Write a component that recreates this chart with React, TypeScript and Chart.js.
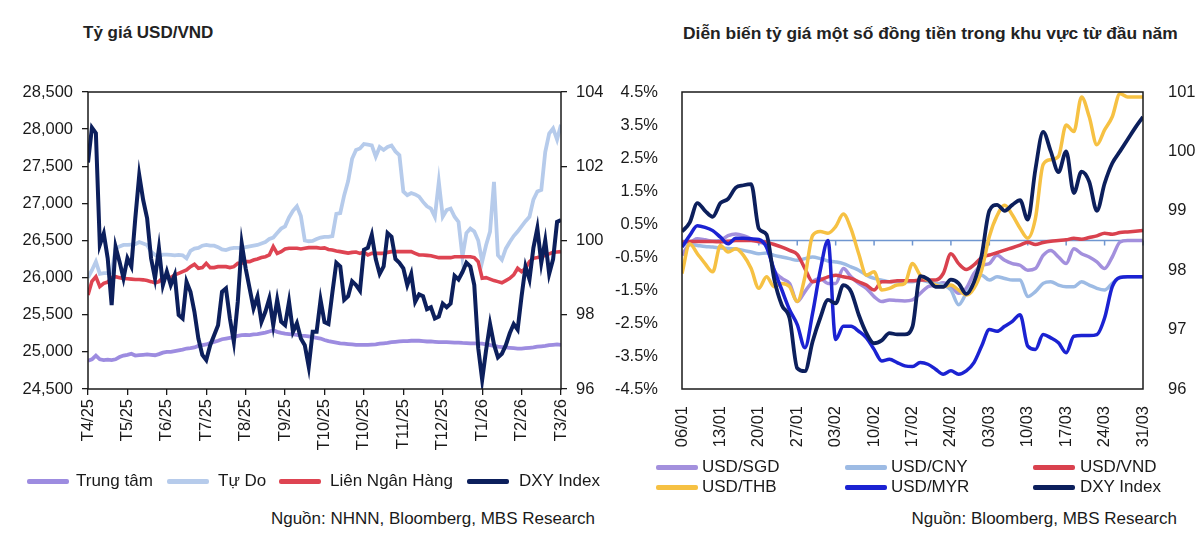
import React, { useEffect, useRef } from "react";
import { Chart, registerables } from "chart.js";

Chart.register(...registerables);

const FONT = "'Liberation Sans', Arial, Helvetica, sans-serif";
const TEXT = "#1a1a1a";

// ---------------- Left chart: Tỷ giá USD/VND ----------------
const leftMonthLabels = ["T4/25", "T5/25", "T6/25", "T7/25", "T8/25", "T9/25", "T10/25", "T10/25", "T11/25", "T12/25", "T1/26", "T2/26", "T3/26"];
const leftVndTicks = [24500, 25000, 25500, 26000, 26500, 27000, 27500, 28000, 28500];
const leftDxyTicks = [96, 98, 100, 102, 104];

const trungTam = [
  24880, 24900, 24950, 24900, 24890, 24895, 24890, 24900, 24930, 24950,
  24960, 24975, 24950, 24955, 24960, 24965, 24960, 24955, 24970, 24990,
  25000, 25000, 25010, 25020, 25030, 25045, 25050, 25060, 25080, 25090,
  25100, 25120, 25135, 25150, 25170, 25180, 25190, 25200, 25215, 25225,
  25230, 25225, 25235, 25240, 25250, 25260, 25275, 25290, 25270, 25255,
  25245, 25240, 25235, 25230, 25220, 25215, 25210, 25200, 25190, 25180,
  25160, 25145, 25135, 25125, 25115, 25110, 25105, 25100, 25095, 25093,
  25093, 25095, 25098, 25100, 25110, 25115, 25120, 25130, 25135, 25140,
  25145, 25145, 25150, 25150, 25150, 25145, 25140, 25140, 25135, 25130,
  25130, 25130, 25128, 25125, 25125, 25120, 25118, 25115, 25115, 25112,
  25110, 25100, 25090, 25080, 25070, 25065, 25060, 25055, 25050, 25045,
  25045, 25050, 25055, 25060, 25070, 25075, 25080, 25090, 25095, 25100, 25095,
];

const tuDo = [
  26000, 26100, 26215, 26050, 26060, 26060, 26070, 26390, 26420, 26440,
  26440, 26445, 26450, 26480, 26460, 26440, 26350, 26305, 26282, 26310,
  26310, 26305, 26300, 26305, 26300, 26260, 26360, 26390, 26400, 26430,
  26440, 26430, 26430, 26410, 26380, 26370, 26390, 26400, 26400, 26400,
  26410, 26420, 26430, 26440, 26460, 26480, 26520, 26540, 26600, 26660,
  26690, 26810, 26900, 26960, 26830, 26500, 26490, 26495, 26520, 26540,
  26550, 26550, 26560, 26860, 26870, 27110, 27300, 27600, 27720, 27740,
  27800, 27790, 27780, 27630, 27760, 27720, 27760, 27780, 27700, 27650,
  27160, 27110, 27140, 27120, 27090, 27020, 26960, 26930, 26820, 27290,
  26820, 26910, 26930, 26820, 26750, 26280, 26600, 26660, 26620, 26500,
  26215, 26440, 26620, 27290, 26300, 26240, 26390, 26480, 26560, 26620,
  26690, 26760, 26820, 27050, 27160, 27180, 27690, 27940, 28010, 27860, 28060,
];

const lienNganHang = [
  25766, 25950, 26013, 25879, 25923, 25940, 26000, 26013, 26000, 25990,
  25985, 25980, 25975, 25975, 25970, 25960, 25946, 25930, 25946, 26000,
  26013, 26000, 26036, 26058, 26080, 26103, 26148, 26179, 26125, 26135,
  26193, 26135, 26135, 26148, 26148, 26148, 26135, 26148, 26193, 26193,
  26215, 26215, 26237, 26251, 26270, 26282, 26305, 26417, 26327, 26350,
  26386, 26395, 26395, 26395, 26386, 26395, 26404, 26404, 26404, 26395,
  26400, 26380, 26372, 26360, 26350, 26340, 26330, 26340, 26345, 26327,
  26345, 26305, 26327, 26327, 26327, 26327, 26340, 26350, 26350, 26350,
  26350, 26350, 26350, 26327, 26305, 26305, 26300, 26295, 26282, 26269,
  26269, 26269, 26269, 26282, 26282, 26282, 26282, 26282, 26270, 26215,
  25991, 26000, 25980, 25960, 25946, 25930, 25960, 25990, 26036, 26125,
  26080, 26125, 26215, 26260, 26270, 26282, 26300, 26320, 26341, 26345, 26350,
];

const dxyLeft = [
  102.1, 103.04, 102.89, 99.88, 100.19, 99.52, 98.26, 99.83, 99.43, 98.98,
  99.52, 99.3, 100.6, 101.76, 101.09, 100.6, 99.52, 98.98, 99.79, 98.8,
  99.16, 98.8, 99.07, 97.99, 97.9, 98.89, 98.62, 98.08, 97.36, 96.92,
  96.78, 97.18, 97.45, 97.72, 98.62, 98.71, 97.9, 97.27, 98.35, 99.92,
  99.25, 98.71, 98.17, 98.49, 97.81, 98.08, 98.44, 97.72, 98.4, 97.81,
  97.72, 98.35, 97.54, 97.77, 97.36, 97.18, 96.6, 97.54, 97.54, 98.4,
  97.8, 97.75, 98.6, 99.4, 99.3, 98.4, 98.5, 98.9, 98.8, 98.65,
  99.75, 99.8, 100.15, 99.5, 99.1, 99.3, 100.2, 100.1, 99.5, 99.4,
  99.25, 98.8, 99.1, 98.35, 98.55, 98.5, 98.15, 98.2, 97.9, 97.95,
  98.3, 98.2, 98.3, 99.05, 98.95, 99.15, 99.4, 99.3, 98.8, 97.1,
  96.25, 97.05, 97.75, 97.2, 96.85, 96.95, 97.18, 97.5, 97.75, 97.6,
  98.5, 99.3, 98.95, 99.8, 100.33, 99.4, 100.0, 99.1, 99.5, 100.5, 100.55,
];

// ---------------- Right chart: khu vực ----------------
const rightWeekLabels = ["06/01", "13/01", "20/01", "27/01", "03/02", "10/02", "17/02", "24/02", "03/03", "10/03", "17/03", "24/03", "31/03"];
const rightPctTicks = [-4.5, -3.5, -2.5, -1.5, -0.5, 0.5, 1.5, 2.5, 3.5, 4.5];
const rightDxyTicks = [96, 97, 98, 99, 100, 101];

const usdSgd = [
  -0.45, -0.1, 0.05, 0.02, -0.02, 0.0, 0.15, 0.2, 0.15, 0.05, -0.05,
  -0.15, -0.9, -1.15, -1.3, -1.85, -1.55, -1.25, -1.15, -1.3, -1.3,
  -0.85, -1.1, -1.3, -1.45, -1.7, -1.85, -1.8, -1.82, -1.83, -1.8,
  -1.6, -1.4, -1.35, -1.28, -1.4, -1.6, -1.45, -1.0, -0.75, -0.7,
  -0.45, -0.6, -0.7, -0.75, -0.9, -0.85, -0.45, -0.3, -0.5, -0.7,
  -0.25, -0.4, -0.5, -0.65, -0.85, -0.5, -0.05, 0.0, 0.0, 0.0,
];

const usdCny = [
  -0.1, -0.12, -0.15, -0.18, -0.2, -0.23, -0.24, -0.26, -0.3, -0.35, -0.4,
  -0.38, -0.45, -0.5, -0.55, -0.6, -0.55, -0.5, -0.55, -0.62, -0.65,
  -0.7, -0.8, -0.9, -1.05, -1.15, -1.2, -1.25, -1.25, -1.25, -1.25,
  -1.2, -1.25, -1.3, -1.35, -1.5, -1.95, -1.6, -1.3, -1.05, -1.2,
  -1.1, -1.15, -1.2, -1.2, -1.7, -1.55, -1.3, -1.25, -1.35, -1.4,
  -1.4, -1.25, -1.35, -1.45, -1.5, -1.3, -1.12, -1.1, -1.1, -1.1,
];

const usdVnd = [
  -0.05, -0.03, -0.03, -0.03, -0.03, -0.04, -0.02, 0.0, 0.0, 0.0, -0.03,
  -0.05, -0.12, -0.2, -0.3, -0.42, -0.85, -1.25, -1.2, -1.1, -1.05,
  -1.1, -1.15, -1.25, -1.35, -1.5, -1.25, -1.25, -1.22, -1.22, -1.22,
  -1.2, -1.2, -1.2, -1.0, -0.4, -0.7, -0.88, -0.74, -0.52, -0.44,
  -0.37, -0.29, -0.22, -0.14, -0.05, -0.12, -0.06, -0.02, 0.0, 0.02,
  0.07, 0.04, 0.09, 0.14, 0.22, 0.19, 0.24, 0.26, 0.28, 0.3,
];

const usdThb = [
  -1.0, -0.1, -0.4, -0.7, -0.95, -0.15, -0.35, -0.25, -0.45, -0.85, -1.45,
  -1.1, -1.4, -1.3, -1.4, -1.85, -1.1, 0.15, 0.27, 0.22, 0.42,
  0.8, 0.35, -0.4, -1.05, -0.95, -1.5, -1.45, -1.35, -1.3, -0.7,
  -1.05, -1.2, -1.35, -1.4, -1.35, -1.5, -1.65, -1.45, -0.9, 0.12,
  0.75, 1.07, 0.77, 0.37, 0.07, 0.67, 2.3, 2.45, 2.55, 3.5,
  3.3, 4.35, 3.75, 2.9, 3.35, 3.75, 4.45, 4.35, 4.35, 4.35,
];

const usdMyr = [
  -0.2, 0.15, 0.45, 0.4, 0.3, 0.1, -0.1, 0.07, 0.07, 0.05, 0.03,
  -0.2, -0.9, -1.5, -2.1, -2.55, -3.25, -2.2, -0.9, 0.0, -3.0,
  -2.6, -2.6, -2.75, -2.95, -3.3, -3.65, -3.6, -3.7, -3.8, -3.82,
  -3.7, -3.75, -3.9, -4.05, -3.95, -4.05, -3.95, -3.7, -3.2, -2.7,
  -2.75, -2.6, -2.45, -2.25, -3.2, -3.3, -2.85, -2.95, -3.1, -3.4,
  -2.9, -2.88, -2.88, -2.85, -2.35, -1.4, -1.12, -1.1, -1.1, -1.1,
];

const dxyRight = [
  98.65, 98.8, 99.13, 99.0, 98.9, 99.13, 99.2, 99.39, 99.43, 99.45, 98.7,
  98.6, 97.85, 97.41, 97.19, 96.35, 96.3, 96.8, 97.2, 97.5, 97.44,
  97.75, 97.64, 97.25, 96.94, 96.77, 96.82, 96.94, 96.92, 96.92, 97.05,
  97.9, 97.85, 97.72, 97.72, 97.84, 97.78, 97.6, 97.8, 98.25, 99.0,
  99.1, 99.0, 99.1, 99.18, 98.85, 99.7, 100.33, 100.0, 99.65, 100.0,
  99.3, 99.66, 99.49, 99.0, 99.46, 99.8, 100.0, 100.2, 100.4, 100.58,
];

// ---------------- colours ----------------
const C_TRUNGTAM = "#9d8ce0";
const C_TUDO = "#b6cbeb";
const C_LNH = "#de4452";
const C_DXY = "#0c1f5c";
const C_SGD = "#a390dd";
const C_CNY = "#9dbbe4";
const C_VND = "#d9414e";
const C_THB = "#f6c143";
const C_MYR = "#1b22d2";
const C_ZERO = "#6f96d0";

const toPoints = (arr: number[]) => arr.map((y, x) => ({ x, y }));

const boxPlugin = {
  id: "plotBox",
  afterDatasetsDraw(chart: any) {
    const { ctx, chartArea: a } = chart;
    ctx.save();
    ctx.strokeStyle = "#1a1a1a";
    ctx.lineWidth = 1.5;
    ctx.strokeRect(a.left, a.top, a.right - a.left, a.bottom - a.top);
    ctx.restore();
  },
};

const zeroLinePlugin = {
  id: "zeroLine",
  beforeDatasetsDraw(chart: any) {
    const { ctx, chartArea: a, scales } = chart;
    const y = scales.y.getPixelForValue(0);
    ctx.save();
    ctx.strokeStyle = C_ZERO;
    ctx.lineWidth = 1.5;
    ctx.beginPath();
    ctx.moveTo(a.left, y);
    ctx.lineTo(a.right, y);
    for (let k = 1; k < rightWeekLabels.length; k++) {
      const x = scales.x.getPixelForValue(k * 5);
      ctx.moveTo(x, y);
      ctx.lineTo(x, y + 5);
    }
    ctx.stroke();
    ctx.restore();
  },
};

const tickFont = { family: FONT, size: 16.5 };

function makeLeftConfig(): any {
  const grid = { display: true, drawOnChartArea: false, drawTicks: true, tickLength: 6, color: "#1a1a1a", lineWidth: 1.3 };
  const line = (label: string, data: number[], color: string, width: number, order: number, axis = "y") => ({
    label,
    data: toPoints(data),
    borderColor: color,
    backgroundColor: color,
    borderWidth: width,
    pointRadius: 0,
    tension: 0,
    yAxisID: axis,
    order,
  });
  return {
    type: "line",
    data: {
      datasets: [
        line("DXY Index", dxyLeft, C_DXY, 4, 0, "y2"),
        line("Liên Ngân Hàng", lienNganHang, C_LNH, 3.6, 1),
        line("Tự Do", tuDo, C_TUDO, 3.8, 2),
        line("Trung tâm", trungTam, C_TRUNGTAM, 3.8, 3),
      ],
    },
    options: {
      animation: false,
      responsive: false,
      devicePixelRatio: 1,
      layout: { padding: { top: 92, left: 0, right: 0, bottom: 0 } },
      plugins: { legend: { display: false }, tooltip: { enabled: false } },
      scales: {
        x: {
          type: "linear",
          min: 0,
          max: (leftMonthLabels.length - 1) * 10,
          afterBuildTicks: (s: any) => {
            s.ticks = leftMonthLabels.map((_, k) => ({ value: k * 10 }));
          },
          afterFit: (s: any) => {
            s.height = 81;
          },
          ticks: {
            autoSkip: false,
            minRotation: 90,
            maxRotation: 90,
            padding: 4,
            color: TEXT,
            font: tickFont,
            callback: (v: number) => leftMonthLabels[Math.round(v / 10)],
          },
          grid,
          border: { display: false },
        },
        y: {
          position: "left",
          min: 24500,
          max: 28500,
          afterBuildTicks: (s: any) => {
            s.ticks = leftVndTicks.map((v) => ({ value: v }));
          },
          afterFit: (s: any) => {
            s.width = 88;
          },
          ticks: {
            padding: 9,
            color: TEXT,
            font: tickFont,
            callback: (v: number) => Number(v).toLocaleString("en-US"),
          },
          grid,
          border: { display: false },
        },
        y2: {
          position: "right",
          min: 96,
          max: 104,
          afterBuildTicks: (s: any) => {
            s.ticks = leftDxyTicks.map((v) => ({ value: v }));
          },
          afterFit: (s: any) => {
            s.width = 54;
          },
          ticks: { padding: 9, color: TEXT, font: tickFont },
          grid,
          border: { display: false },
        },
      },
    },
    plugins: [boxPlugin],
  };
}

function makeRightConfig(): any {
  const noGrid = { display: false };
  const line = (label: string, data: number[], color: string, width: number, order: number, axis = "y") => ({
    label,
    data: toPoints(data),
    borderColor: color,
    backgroundColor: color,
    borderWidth: width,
    pointRadius: 0,
    cubicInterpolationMode: "monotone",
    yAxisID: axis,
    order,
  });
  return {
    type: "line",
    data: {
      datasets: [
        line("DXY Index", dxyRight, C_DXY, 3.8, 0, "y2"),
        line("USD/MYR", usdMyr, C_MYR, 3.5, 1),
        line("USD/THB", usdThb, C_THB, 3.5, 2),
        line("USD/VND", usdVnd, C_VND, 3.5, 3),
        line("USD/CNY", usdCny, C_CNY, 3.5, 4),
        line("USD/SGD", usdSgd, C_SGD, 3.5, 5),
      ],
    },
    options: {
      animation: false,
      responsive: false,
      devicePixelRatio: 1,
      layout: { padding: { top: 92, left: 0, right: 0, bottom: 0 } },
      plugins: { legend: { display: false }, tooltip: { enabled: false } },
      scales: {
        x: {
          type: "linear",
          min: 0,
          max: (rightWeekLabels.length - 1) * 5,
          afterBuildTicks: (s: any) => {
            s.ticks = rightWeekLabels.map((_, k) => ({ value: k * 5 }));
          },
          afterFit: (s: any) => {
            s.height = 81;
          },
          ticks: {
            autoSkip: false,
            minRotation: 90,
            maxRotation: 90,
            padding: 9,
            color: TEXT,
            font: tickFont,
            callback: (v: number) => rightWeekLabels[Math.round(v / 5)],
          },
          grid: noGrid,
          border: { display: false },
        },
        y: {
          position: "left",
          min: -4.5,
          max: 4.5,
          afterBuildTicks: (s: any) => {
            s.ticks = rightPctTicks.map((v) => ({ value: v }));
          },
          afterFit: (s: any) => {
            s.width = 72;
          },
          ticks: {
            padding: 16,
            color: TEXT,
            font: tickFont,
            callback: (v: number) => Number(v).toFixed(1) + "%",
          },
          grid: noGrid,
          border: { display: false },
        },
        y2: {
          position: "right",
          min: 96,
          max: 101,
          afterBuildTicks: (s: any) => {
            s.ticks = rightDxyTicks.map((v) => ({ value: v }));
          },
          afterFit: (s: any) => {
            s.width = 57;
          },
          ticks: { padding: 17, color: TEXT, font: tickFont },
          grid: noGrid,
          border: { display: false },
        },
      },
    },
    plugins: [zeroLinePlugin, boxPlugin],
  };
}

function ChartCanvas(props: { make: () => any; left: number; width: number; height: number }) {
  const ref = useRef<HTMLCanvasElement | null>(null);
  useEffect(() => {
    if (!ref.current) return;
    const chart = new Chart(ref.current, props.make());
    return () => chart.destroy();
  }, []);
  return (
    <canvas
      ref={ref}
      width={props.width}
      height={props.height}
      style={{ position: "absolute", left: props.left, top: 0, width: props.width, height: props.height, display: "block" }}
    />
  );
}

type LegendItem = { label: string; color: string; lineLeft: number; textLeft: number; y: number };

const leftLegend: LegendItem[] = [
  { label: "Trung tâm", color: C_TRUNGTAM, lineLeft: 27, textLeft: 76, y: 481 },
  { label: "Tự Do", color: C_TUDO, lineLeft: 167, textLeft: 218, y: 481 },
  { label: "Liên Ngân Hàng", color: C_LNH, lineLeft: 279, textLeft: 330, y: 481 },
  { label: "DXY Index", color: C_DXY, lineLeft: 467, textLeft: 519, y: 481 },
];

const rightLegend: LegendItem[] = [
  { label: "USD/SGD", color: C_SGD, lineLeft: 656, textLeft: 702, y: 467 },
  { label: "USD/CNY", color: C_CNY, lineLeft: 845, textLeft: 891, y: 467 },
  { label: "USD/VND", color: C_VND, lineLeft: 1033, textLeft: 1080, y: 467 },
  { label: "USD/THB", color: C_THB, lineLeft: 656, textLeft: 702, y: 487 },
  { label: "USD/MYR", color: C_MYR, lineLeft: 845, textLeft: 891, y: 487 },
  { label: "DXY Index", color: C_DXY, lineLeft: 1033, textLeft: 1080, y: 487 },
];

function Legend({ items }: { items: LegendItem[] }) {
  return (
    <>
      {items.map((it, k) => (
        <React.Fragment key={k}>
          <div
            style={{
              position: "absolute",
              left: it.lineLeft,
              top: it.y - 2.5,
              width: 42,
              height: 5,
              borderRadius: 2,
              background: it.color,
            }}
          />
          <div style={{ position: "absolute", left: it.textLeft, top: it.y - 10, lineHeight: "20px", fontSize: 17, whiteSpace: "nowrap" }}>
            {it.label}
          </div>
        </React.Fragment>
      ))}
    </>
  );
}

export default function App() {
  return (
    <div
      style={{
        position: "absolute",
        left: 0,
        top: 0,
        width: 1200,
        height: 550,
        background: "#ffffff",
        fontFamily: FONT,
        color: TEXT,
        overflow: "hidden",
      }}
    >
      <div style={{ position: "absolute", left: 83, top: 23, fontSize: 17, fontWeight: "bold", lineHeight: "20px", color: "#222" }}>
        Tỷ giá USD/VND
      </div>
      <div style={{ position: "absolute", left: 683, top: 23, fontSize: 17.4, fontWeight: "bold", lineHeight: "20px", color: "#222", whiteSpace: "nowrap" }}>
        Diễn biến tỷ giá một số đồng tiền trong khu vực từ đầu năm
      </div>
      <ChartCanvas make={makeLeftConfig} left={0} width={615} height={470} />
      <ChartCanvas make={makeRightConfig} left={610} width={590} height={470} />
      <Legend items={leftLegend} />
      <Legend items={rightLegend} />
      <div style={{ position: "absolute", right: 605, top: 509, fontSize: 17, lineHeight: "20px", whiteSpace: "nowrap" }}>
        Nguồn: NHNN, Bloomberg, MBS Research
      </div>
      <div style={{ position: "absolute", right: 23, top: 509, fontSize: 17, lineHeight: "20px", whiteSpace: "nowrap" }}>
        Nguồn: Bloomberg, MBS Research
      </div>
    </div>
  );
}
